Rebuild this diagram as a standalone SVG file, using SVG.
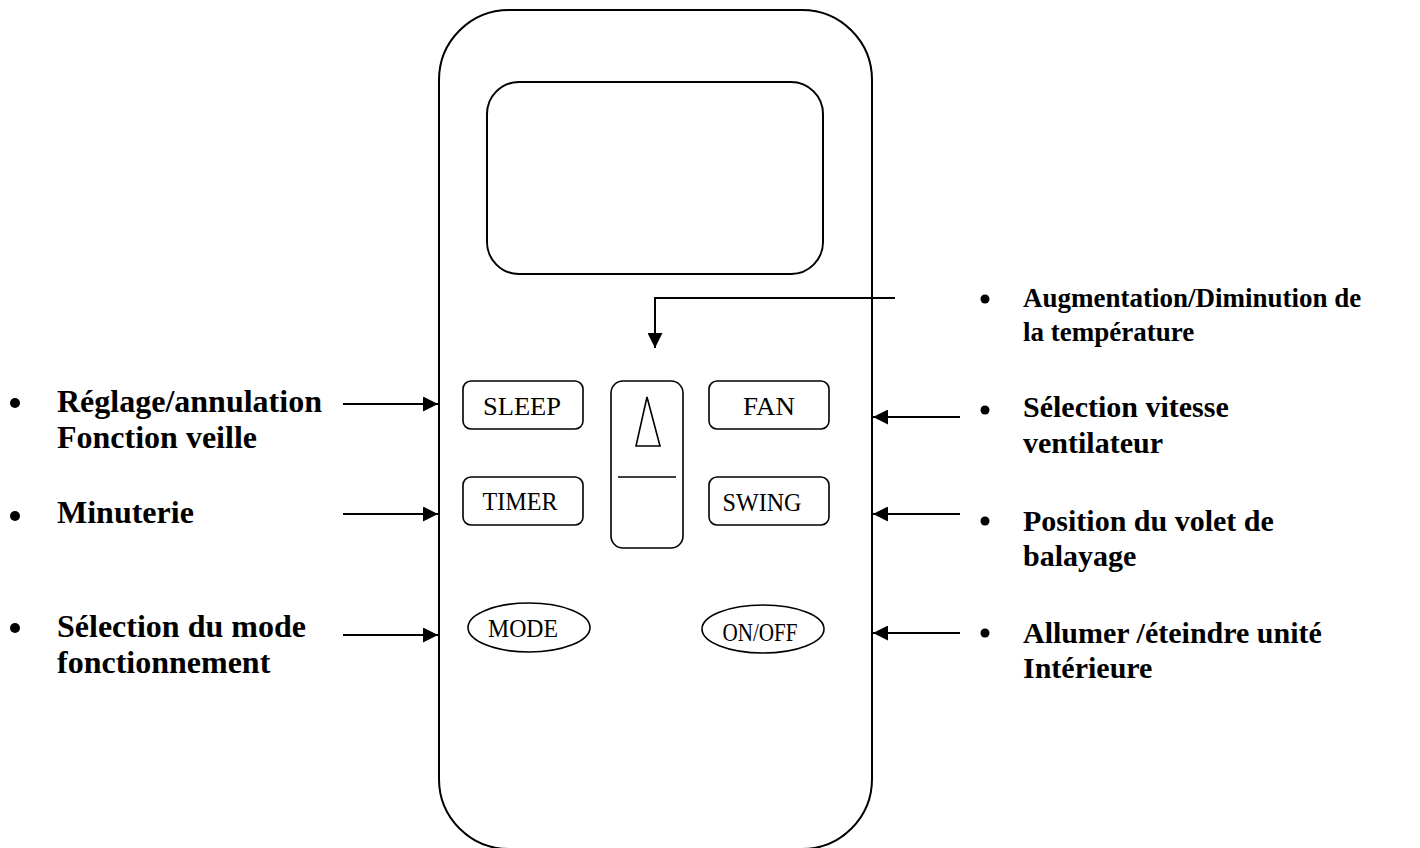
<svg xmlns="http://www.w3.org/2000/svg" width="1420" height="848" viewBox="0 0 1420 848">
<style>
.sh{fill:none;stroke:#000;stroke-width:2}
.bt{fill:#fff;stroke:#000;stroke-width:1.6}
.bl{font-family:"Liberation Serif","Times New Roman",serif;font-size:25px;fill:#000}
.lb{font-family:"Liberation Serif","Times New Roman",serif;font-weight:bold;fill:#000}
.c{stroke:#000;stroke-width:2;fill:none}
</style>
<defs>
<marker id="ah" viewBox="0 0 15 15" markerWidth="15" markerHeight="15" refX="15" refY="7.5" orient="auto" markerUnits="userSpaceOnUse">
<path d="M0,0 L15,7.5 L0,15 z" fill="#000"/>
</marker>
</defs>
<rect width="1420" height="848" fill="#fff"/>
<g id="remote">
<rect class="sh" x="439" y="10" width="433" height="839" rx="70" ry="70"/>
<rect class="sh" x="487" y="82" width="336" height="192" rx="32" ry="32"/>
</g>
<g id="btn-sleep">
<rect class="bt" x="463" y="381" width="120" height="48" rx="8"/>
<text class="bl" x="522" y="415" text-anchor="middle" textLength="78" lengthAdjust="spacingAndGlyphs">SLEEP</text>
</g>
<g id="btn-fan">
<rect class="bt" x="709" y="381" width="120" height="48" rx="8"/>
<text class="bl" x="769" y="415" text-anchor="middle" textLength="52" lengthAdjust="spacingAndGlyphs">FAN</text>
</g>
<g id="btn-timer">
<rect class="bt" x="463" y="477" width="120" height="48" rx="8"/>
<text class="bl" x="520" y="510" text-anchor="middle" textLength="75" lengthAdjust="spacingAndGlyphs">TIMER</text>
</g>
<g id="btn-swing">
<rect class="bt" x="709" y="477" width="120" height="48" rx="8"/>
<text class="bl" x="762" y="511" text-anchor="middle" textLength="79" lengthAdjust="spacingAndGlyphs">SWING</text>
</g>
<g id="btn-temp">
<rect class="bt" x="611" y="381" width="72" height="167" rx="12"/>
<path class="bt" d="M647,397 L636,446 L660,446 Z"/>
<line x1="618" y1="477" x2="676" y2="477" stroke="#000" stroke-width="1.6"/>
</g>
<g id="btn-mode">
<ellipse class="bt" cx="529" cy="627.5" rx="61" ry="24.5"/>
<text class="bl" x="523" y="637" text-anchor="middle" textLength="70" lengthAdjust="spacingAndGlyphs">MODE</text>
</g>
<g id="btn-onoff">
<ellipse class="bt" cx="763" cy="629" rx="61" ry="24"/>
<text class="bl" x="760" y="641" text-anchor="middle" textLength="75" lengthAdjust="spacingAndGlyphs">ON/OFF</text>
</g>
<g id="label-sleep">
<circle cx="15" cy="403" r="5"/>
<text class="lb" font-size="32" x="57" y="412">Réglage/annulation</text>
<text class="lb" font-size="32" x="57" y="448">Fonction veille</text>
</g>
<g id="label-timer">
<circle cx="15" cy="516" r="5"/>
<text class="lb" font-size="32" x="57" y="523">Minuterie</text>
</g>
<g id="label-mode">
<circle cx="15" cy="628" r="5"/>
<text class="lb" font-size="32" x="57" y="637">Sélection du mode</text>
<text class="lb" font-size="32" x="57" y="673">fonctionnement</text>
</g>
<g id="label-temp">
<circle cx="985" cy="299" r="4.5"/>
<text class="lb" font-size="27" x="1023" y="307">Augmentation/Diminution de</text>
<text class="lb" font-size="27" x="1023" y="341">la température</text>
</g>
<g id="label-fan">
<circle cx="985" cy="410" r="4.5"/>
<text class="lb" font-size="30" x="1023" y="417">Sélection vitesse</text>
<text class="lb" font-size="30" x="1023" y="453">ventilateur</text>
</g>
<g id="label-swing">
<circle cx="985" cy="521" r="4.5"/>
<text class="lb" font-size="30" x="1023" y="531">Position du volet de</text>
<text class="lb" font-size="30" x="1023" y="566">balayage</text>
</g>
<g id="label-onoff">
<circle cx="985" cy="633" r="4.5"/>
<text class="lb" font-size="30" x="1023" y="643">Allumer /éteindre unité</text>
<text class="lb" font-size="30" x="1023" y="678">Intérieure</text>
</g>
<g id="connectors">
<path class="c" d="M895,298 H655 V348" marker-end="url(#ah)"/>
<line class="c" x1="343" y1="404" x2="438" y2="404" marker-end="url(#ah)"/>
<line class="c" x1="343" y1="514" x2="438" y2="514" marker-end="url(#ah)"/>
<line class="c" x1="343" y1="635" x2="438" y2="635" marker-end="url(#ah)"/>
<line class="c" x1="960" y1="417" x2="873" y2="417" marker-end="url(#ah)"/>
<line class="c" x1="960" y1="514" x2="873" y2="514" marker-end="url(#ah)"/>
<line class="c" x1="960" y1="633" x2="873" y2="633" marker-end="url(#ah)"/>
</g>
</svg>
